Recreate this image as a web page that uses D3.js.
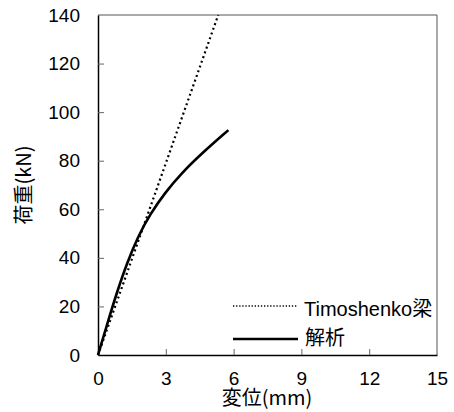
<!DOCTYPE html>
<html><head><meta charset="utf-8">
<script src="https://cdn.jsdelivr.net/npm/d3@7"></script>
<style>body{margin:0;background:#fff}</style>
</head><body>
<svg id="c" width="454" height="412"></svg>
<script>
const xTicks = [0, 3, 6, 9, 12, 15];
const yTicks = [0, 20, 40, 60, 80, 100, 120, 140];
const timoX = [0, 5.32];
const timoY = [0, 140];
const anaX = [0, 0.46, 0.83, 1.27, 1.78, 2.30, 2.96, 3.70, 4.59, 5.77];
const anaY = [0, 14.4, 25.6, 37.6, 49.0, 57.9, 66.8, 74.9, 83.0, 92.6];
const legendLabels = ["Timoshenko梁", "解析"];

const svg = d3.select("#c");
const L = 98, R = 437, T = 15, B = 355;
const x = d3.scaleLinear().domain([0, 15]).range([L, R]);
const y = d3.scaleLinear().domain([0, 140]).range([B, T]);
const numFont = "'Liberation Sans', Arial, sans-serif";
const jpFont = "'Noto Sans CJK JP', sans-serif";

// frame top/right
svg.append("line").attr("x1", L).attr("x2", R).attr("y1", T).attr("y2", T).attr("stroke", "#555").attr("stroke-width", 1);
svg.append("line").attr("x1", R).attr("x2", R).attr("y1", T).attr("y2", B).attr("stroke", "#555").attr("stroke-width", 1);

// axes
const gy = svg.append("g").attr("transform", `translate(${L},0)`)
  .call(d3.axisLeft(y).tickValues(yTicks).tickSizeInner(-6).tickSizeOuter(0).tickPadding(18));
const gx = svg.append("g").attr("transform", `translate(0,${B})`)
  .call(d3.axisBottom(x).tickValues(xTicks).tickSizeInner(-6).tickSizeOuter(0).tickPadding(17));
[gx, gy].forEach(g => {
  g.select(".domain").attr("stroke", "#000").attr("stroke-width", 1.5);
  g.selectAll(".tick line").attr("stroke", "#666");
  g.selectAll(".tick text").attr("font-family", numFont).attr("font-size", 19).attr("fill", "#000");
});
gy.selectAll(".tick").filter(d => d === 0 || d === 140).select("line").remove();
gx.selectAll(".tick").filter(d => d === 0 || d === 15).select("line").remove();

// axis labels
svg.append("text").attr("x", 267).attr("y", 405).attr("text-anchor", "middle")
  .attr("font-family", jpFont).attr("font-size", 20).text("変位(mm)");
svg.append("text").attr("transform", "translate(31,185) rotate(-90)").attr("text-anchor", "middle")
  .attr("font-family", jpFont).attr("font-size", 20).text("荷重(kN)");

const line = d3.line().x(d => x(d[0])).y(d => y(d[1]));
svg.append("path").datum(timoX.map((v, i) => [v, timoY[i]]))
  .attr("d", line).attr("fill", "none").attr("stroke", "#000").attr("stroke-width", 2.2).attr("stroke-dasharray", "2,3");
svg.append("path").datum(anaX.map((v, i) => [v, anaY[i]]))
  .attr("d", line.curve(d3.curveBasis)).attr("fill", "none").attr("stroke", "#000").attr("stroke-width", 2.6);

// legend
svg.append("line").attr("x1", 233).attr("x2", 298).attr("y1", 306).attr("y2", 306)
  .attr("stroke", "#000").attr("stroke-width", 1.3).attr("stroke-dasharray", "1.3,1.8");
svg.append("line").attr("x1", 233).attr("x2", 298).attr("y1", 339).attr("y2", 339)
  .attr("stroke", "#000").attr("stroke-width", 2.6);
const lt = svg.append("text").attr("x", 304).attr("y", 316).attr("font-size", 20);
lt.append("tspan").attr("font-family", numFont).text(legendLabels[0].slice(0, -1));
lt.append("tspan").attr("font-family", jpFont).text(legendLabels[0].slice(-1));
svg.append("text").attr("x", 305).attr("y", 345).attr("font-family", jpFont).attr("font-size", 20).text(legendLabels[1]);
</script>
</body></html>
